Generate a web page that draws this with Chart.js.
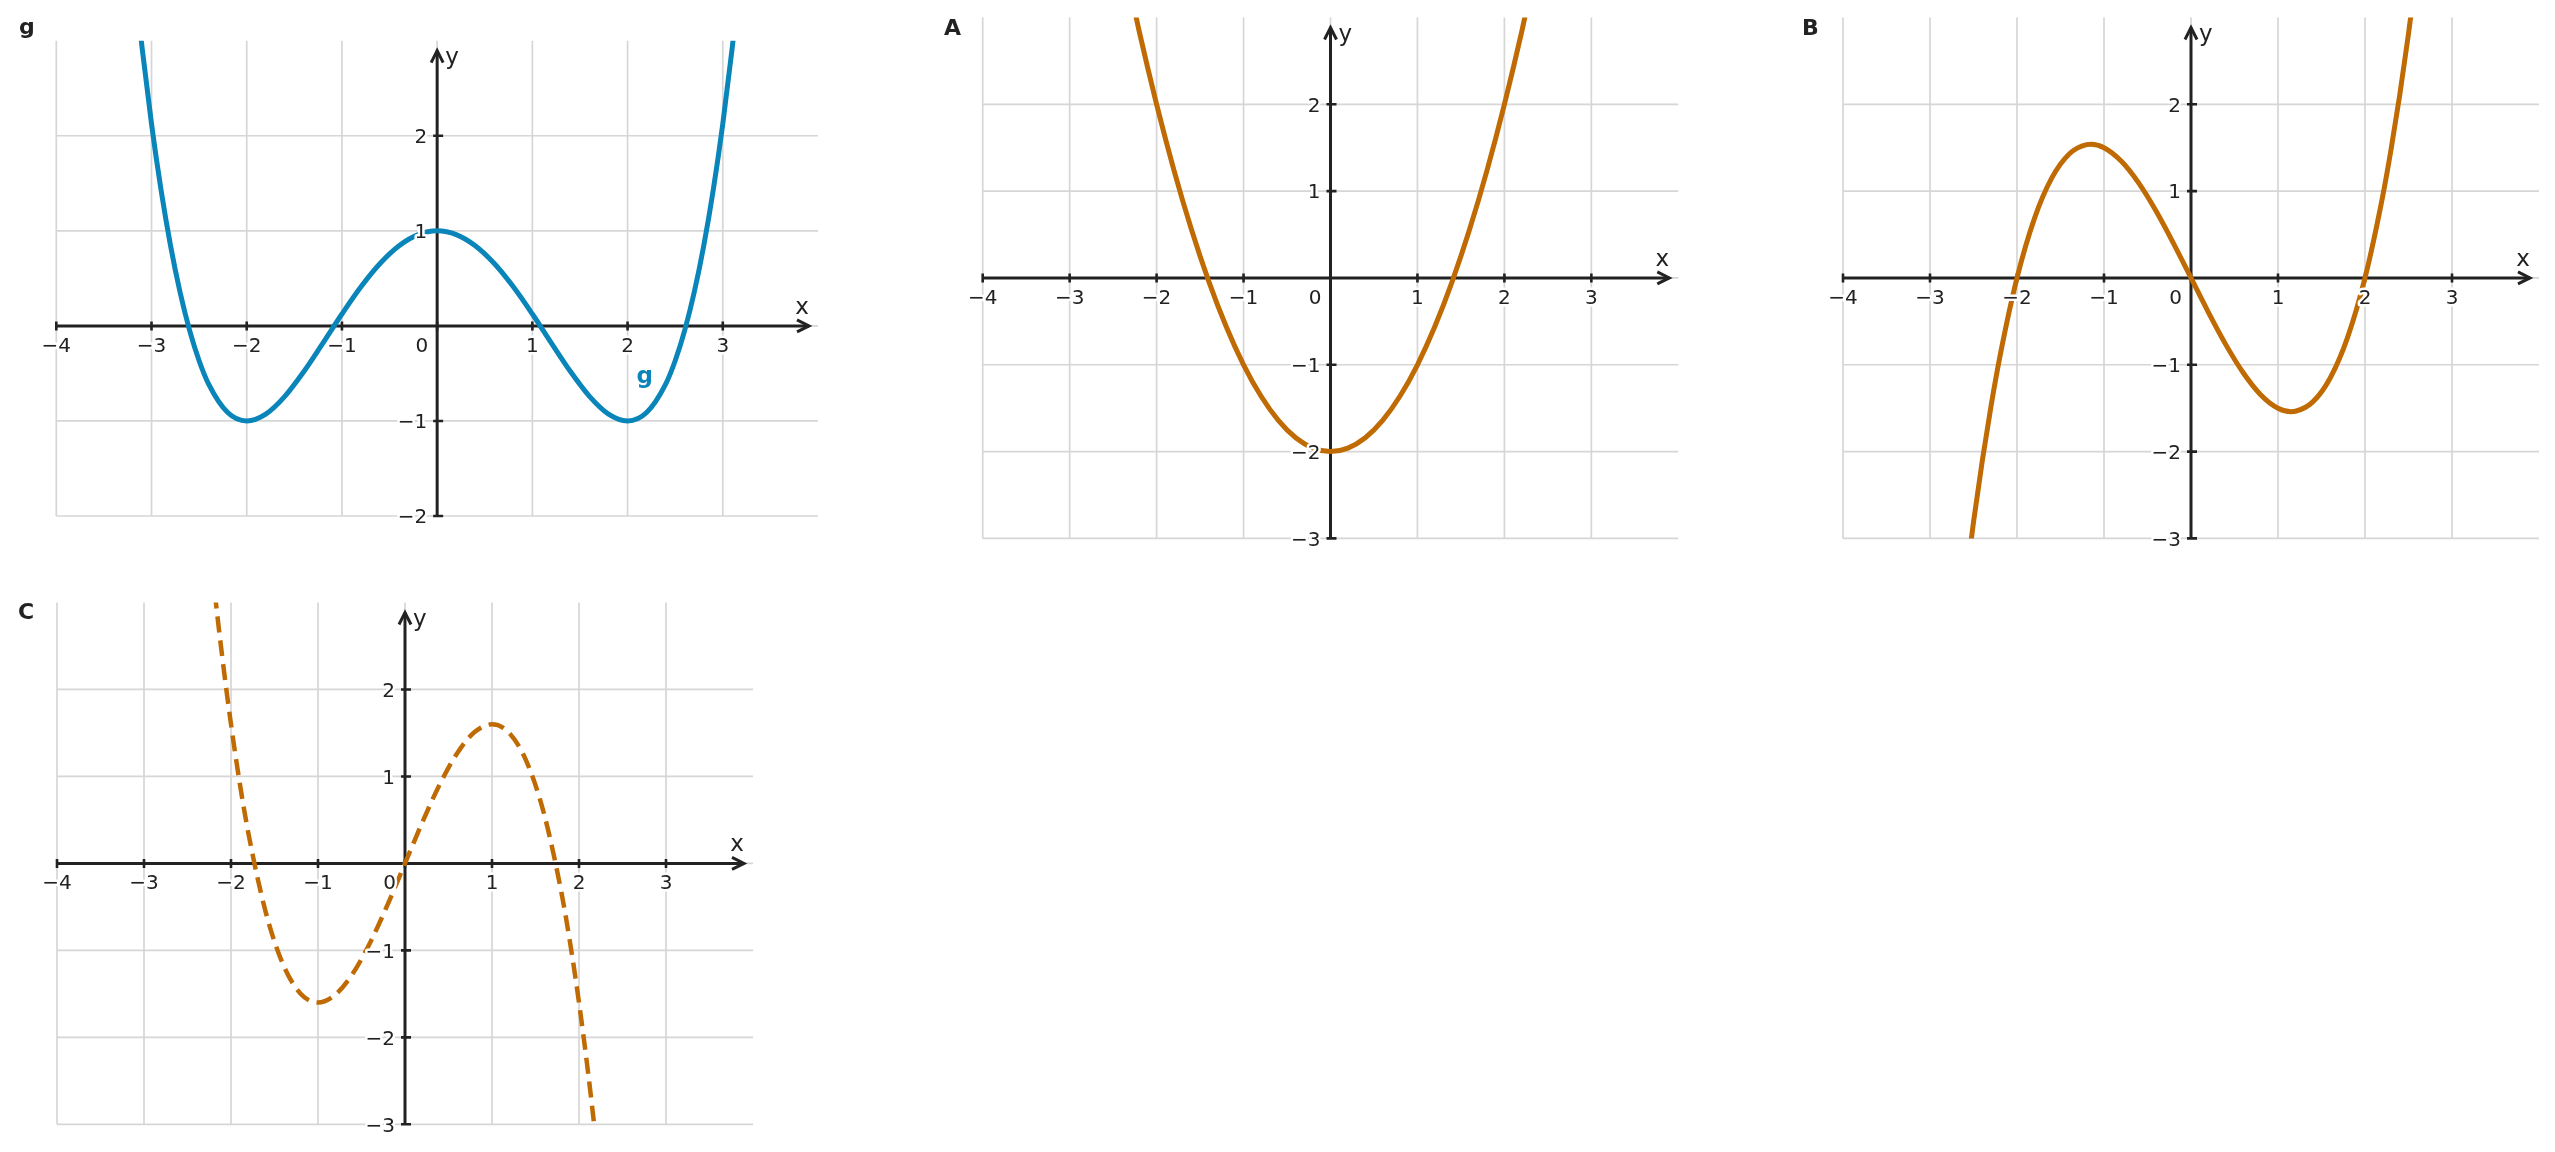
<!DOCTYPE html>
<html>
<head>
<meta charset="utf-8">
<script src="https://cdn.jsdelivr.net/npm/chart.js@4.4.1/dist/chart.umd.min.js"></script>
<style>
  html, body { margin:0; padding:0; background:#ffffff; width:2555px; height:1152px; overflow:hidden; }
  canvas { position:absolute; }
</style>
</head>
<body>
<canvas id="cg" width="900" height="580" style="left:0px;top:0px"></canvas>
<canvas id="ca" width="840" height="580" style="left:920px;top:0px"></canvas>
<canvas id="cb" width="775" height="580" style="left:1780px;top:0px"></canvas>
<canvas id="cc" width="900" height="572" style="left:0px;top:580px"></canvas>
<script>
// ---------- tick values / labels ----------
const xTickValues = [-4, -3, -2, -1, 0, 1, 2, 3];
const xTickLabels = ['−4', '−3', '−2', '−1', '0', '1', '2', '3'];
const yTickValuesG = [-2, -1, 1, 2];
const yTickLabelsG = ['−2', '−1', '1', '2'];
const yTickValuesABC = [-3, -2, -1, 1, 2];
const yTickLabelsABC = ['−3', '−2', '−1', '1', '2'];

// ---------- curve g (blue) ----------
const gX = [-3.2, -3.1, -3.0, -2.9, -2.8, -2.7, -2.6, -2.5, -2.4, -2.2, -2.0, -1.8, -1.6, -1.4, -1.2, -1.0, -0.8, -0.6, -0.4, -0.2,
            0, 0.2, 0.4, 0.6, 0.8, 1.0, 1.2, 1.4, 1.6, 1.8, 2.0, 2.2, 2.4, 2.5, 2.6, 2.7, 2.8, 2.9, 3.0, 3.1, 3.2];
const gY = [3.867, 2.934, 2.125, 1.431, 0.843, 0.353, -0.048, -0.367, -0.613, -0.912, -1.000, -0.928, -0.741, -0.480, -0.181, 0.125, 0.411, 0.656, 0.843, 0.960,
            1.000, 0.960, 0.843, 0.656, 0.411, 0.125, -0.181, -0.480, -0.741, -0.928, -1.000, -0.912, -0.613, -0.367, -0.048, 0.353, 0.843, 1.431, 2.125, 2.934, 3.867];

// ---------- curve A (orange, parabola) ----------
const aX = [-2.4, -2.2, -2.0, -1.8, -1.6, -1.4, -1.2, -1.0, -0.8, -0.6, -0.4, -0.2, 0, 0.2, 0.4, 0.6, 0.8, 1.0, 1.2, 1.4, 1.6, 1.8, 2.0, 2.2, 2.4];
const aY = [3.76, 2.84, 2.00, 1.24, 0.56, -0.04, -0.56, -1.00, -1.36, -1.64, -1.84, -1.96, -2.00, -1.96, -1.84, -1.64, -1.36, -1.00, -0.56, -0.04, 0.56, 1.24, 2.00, 2.84, 3.76];

// ---------- curve B (orange, cubic) ----------
const bX = [-2.7, -2.6, -2.5, -2.4, -2.3, -2.2, -2.0, -1.8, -1.6, -1.4, -1.2, -1.15, -1.0, -0.8, -0.6, -0.4, -0.2,
            0, 0.2, 0.4, 0.6, 0.8, 1.0, 1.15, 1.2, 1.4, 1.6, 1.8, 2.0, 2.2, 2.3, 2.4, 2.5, 2.6, 2.7];
const bY = [-4.442, -3.588, -2.813, -2.112, -1.484, -0.924, 0.000, 0.684, 1.152, 1.428, 1.536, 1.540, 1.500, 1.344, 1.092, 0.768, 0.396,
            0.000, -0.396, -0.768, -1.092, -1.344, -1.500, -1.540, -1.536, -1.428, -1.152, -0.684, 0.000, 0.924, 1.484, 2.112, 2.813, 3.588, 4.442];

// ---------- curve C (orange, dashed) ----------
const cX = [-2.3, -2.2, -2.1, -2.0, -1.9, -1.8, -1.6, -1.4, -1.2, -1.0, -0.8, -0.6, -0.4, -0.2,
            0, 0.2, 0.4, 0.6, 0.8, 1.0, 1.2, 1.4, 1.6, 1.8, 1.9, 2.0, 2.1, 2.2, 2.3];
const cY = [4.214, 3.238, 2.369, 1.600, 0.927, 0.346, -0.563, -1.165, -1.498, -1.600, -1.510, -1.267, -0.909, -0.474,
            0.000, 0.474, 0.909, 1.267, 1.510, 1.600, 1.498, 1.165, 0.563, -0.346, -0.927, -1.600, -2.369, -3.238, -4.214];

// ---------- styles ----------
const BLUE = '#0a85b9';
const ORANGE = '#bf6a02';
const GRID = '#d6d6d6';
const AXIS = '#222222';
const TEXT = '#222222';
const FONT = '"DejaVu Sans", "Noto Sans", sans-serif';

function pts(xs, ys) { return xs.map((x, i) => ({ x: x, y: ys[i] })); }

function panelPlugin(p) {
  return {
    id: 'panel_' + p.id,
    beforeDatasetsDraw(chart) {
      const ctx = chart.ctx, ca = chart.chartArea, xs = chart.scales.x, ys = chart.scales.y;
      ctx.save();
      // grid
      ctx.strokeStyle = GRID; ctx.lineWidth = 1.7; ctx.lineCap = 'butt';
      ctx.beginPath();
      p.gridX.forEach(v => { const q = xs.getPixelForValue(v); ctx.moveTo(q, ca.top); ctx.lineTo(q, ca.bottom); });
      p.gridY.forEach(v => { const q = ys.getPixelForValue(v); ctx.moveTo(ca.left, q); ctx.lineTo(ca.right, q); });
      ctx.stroke();
      // axes
      const x0 = xs.getPixelForValue(0), y0 = ys.getPixelForValue(0);
      const tipX = ca.right - 9, tipY = ca.top + 10;
      ctx.strokeStyle = AXIS; ctx.lineWidth = 3;
      ctx.beginPath();
      ctx.moveTo(ca.left, y0); ctx.lineTo(tipX, y0);
      ctx.moveTo(x0, ca.bottom); ctx.lineTo(x0, tipY);
      ctx.stroke();
      ctx.lineJoin = 'miter';
      ctx.beginPath();
      ctx.moveTo(tipX - 12, y0 - 6); ctx.lineTo(tipX, y0); ctx.lineTo(tipX - 12, y0 + 6);
      ctx.stroke();
      ctx.beginPath();
      ctx.moveTo(x0 - 6, tipY + 12); ctx.lineTo(x0, tipY); ctx.lineTo(x0 + 6, tipY + 12);
      ctx.stroke();
      // ticks
      ctx.lineWidth = 2.6;
      ctx.beginPath();
      p.xTicks.forEach(v => { const q = xs.getPixelForValue(v); ctx.moveTo(q, y0 - 4.5); ctx.lineTo(q, y0 + 4.5); });
      p.yTicks.forEach(v => { const q = ys.getPixelForValue(v); ctx.moveTo(x0 - 4, q); ctx.lineTo(x0 + 6, q); });
      ctx.stroke();
      ctx.restore();
    },
    afterDatasetsDraw(chart) {
      const ctx = chart.ctx, ca = chart.chartArea, xs = chart.scales.x, ys = chart.scales.y;
      const x0 = xs.getPixelForValue(0), y0 = ys.getPixelForValue(0);
      ctx.save();
      ctx.font = '20px ' + FONT;
      ctx.textBaseline = 'alphabetic';
      ctx.lineJoin = 'round';
      ctx.lineWidth = 5;
      ctx.strokeStyle = '#ffffff';
      ctx.fillStyle = TEXT;
      const halo = (t, x, y) => { ctx.strokeText(t, x, y); ctx.fillText(t, x, y); };
      p.xTicks.forEach((v, i) => {
        const q = xs.getPixelForValue(v);
        if (v === 0) { ctx.textAlign = 'right'; halo(p.xLabels[i], x0 - 9, y0 + 26); }
        else { ctx.textAlign = 'center'; halo(p.xLabels[i], q, y0 + 26); }
      });
      ctx.textAlign = 'right';
      p.yTicks.forEach((v, i) => {
        const q = ys.getPixelForValue(v);
        halo(p.yLabels[i], x0 - 10, q + 7.3);
      });
      // axis names
      ctx.font = '23px ' + FONT;
      ctx.textAlign = 'center';
      ctx.fillText('x', ca.right - 16, y0 - 12);
      ctx.textAlign = 'left';
      ctx.fillText('y', x0 + 8, ca.top + 23);
      // panel letter
      ctx.font = 'bold 22px ' + FONT;
      ctx.textAlign = 'left';
      ctx.fillStyle = TEXT;
      ctx.fillText(p.title, p.titlePos[0], p.titlePos[1]);
      // curve label
      if (p.curveLabel) {
        ctx.font = 'bold 23px ' + FONT;
        ctx.textAlign = 'center';
        ctx.fillStyle = p.curveLabel.color;
        ctx.fillText(p.curveLabel.text, xs.getPixelForValue(p.curveLabel.at[0]), ys.getPixelForValue(p.curveLabel.at[1]));
      }
      ctx.restore();
    }
  };
}

function makeChart(canvasId, p) {
  return new Chart(document.getElementById(canvasId), {
    type: 'line',
    data: {
      datasets: [{
        data: pts(p.xs, p.ys),
        borderColor: p.color,
        borderWidth: p.width,
        borderDash: p.dash || [],
        borderCapStyle: 'butt',
        pointRadius: 0,
        pointHoverRadius: 0,
        fill: false,
        cubicInterpolationMode: 'monotone',
        clip: 0
      }]
    },
    options: {
      responsive: false,
      animation: false,
      devicePixelRatio: 1,
      events: [],
      layout: { padding: p.padding },
      plugins: { legend: { display: false }, tooltip: { enabled: false } },
      scales: {
        x: { type: 'linear', min: -4, max: 4, display: false },
        y: { type: 'linear', min: p.ymin, max: p.ymax, display: false }
      }
    },
    plugins: [panelPlugin(p)]
  });
}

makeChart('cg', {
  id: 'g', title: 'g', titlePos: [19, 34],
  xs: gX, ys: gY, color: BLUE, width: 5,
  ymin: -2, ymax: 3,
  padding: { left: 56.3, top: 40.7, right: 82, bottom: 64 },
  gridX: xTickValues, gridY: [-2, -1, 0, 1, 2],
  xTicks: xTickValues, xLabels: xTickLabels,
  yTicks: yTickValuesG, yLabels: yTickLabelsG,
  curveLabel: { text: 'g', at: [2.18, -0.6], color: BLUE }
});

makeChart('ca', {
  id: 'A', title: 'A', titlePos: [24, 35],
  xs: aX, ys: aY, color: ORANGE, width: 5,
  ymin: -3, ymax: 3,
  padding: { left: 62.7, top: 17.5, right: 81.7, bottom: 41.6 },
  gridX: xTickValues, gridY: [-3, -2, -1, 0, 1, 2],
  xTicks: xTickValues, xLabels: xTickLabels,
  yTicks: yTickValuesABC, yLabels: yTickLabelsABC
});

makeChart('cb', {
  id: 'B', title: 'B', titlePos: [22, 35],
  xs: bX, ys: bY, color: ORANGE, width: 5,
  ymin: -3, ymax: 3,
  padding: { left: 63, top: 17.5, right: 16, bottom: 41.6 },
  gridX: xTickValues, gridY: [-3, -2, -1, 0, 1, 2],
  xTicks: xTickValues, xLabels: xTickLabels,
  yTicks: yTickValuesABC, yLabels: yTickLabelsABC
});

makeChart('cc', {
  id: 'C', title: 'C', titlePos: [18, 38.5],
  xs: cX, ys: cY, color: ORANGE, width: 4.5, dash: [16, 8],
  ymin: -3, ymax: 3,
  padding: { left: 57, top: 22.5, right: 147, bottom: 27.7 },
  gridX: xTickValues, gridY: [-3, -2, -1, 0, 1, 2],
  xTicks: xTickValues, xLabels: xTickLabels,
  yTicks: yTickValuesABC, yLabels: yTickLabelsABC
});
</script>
</body>
</html>
